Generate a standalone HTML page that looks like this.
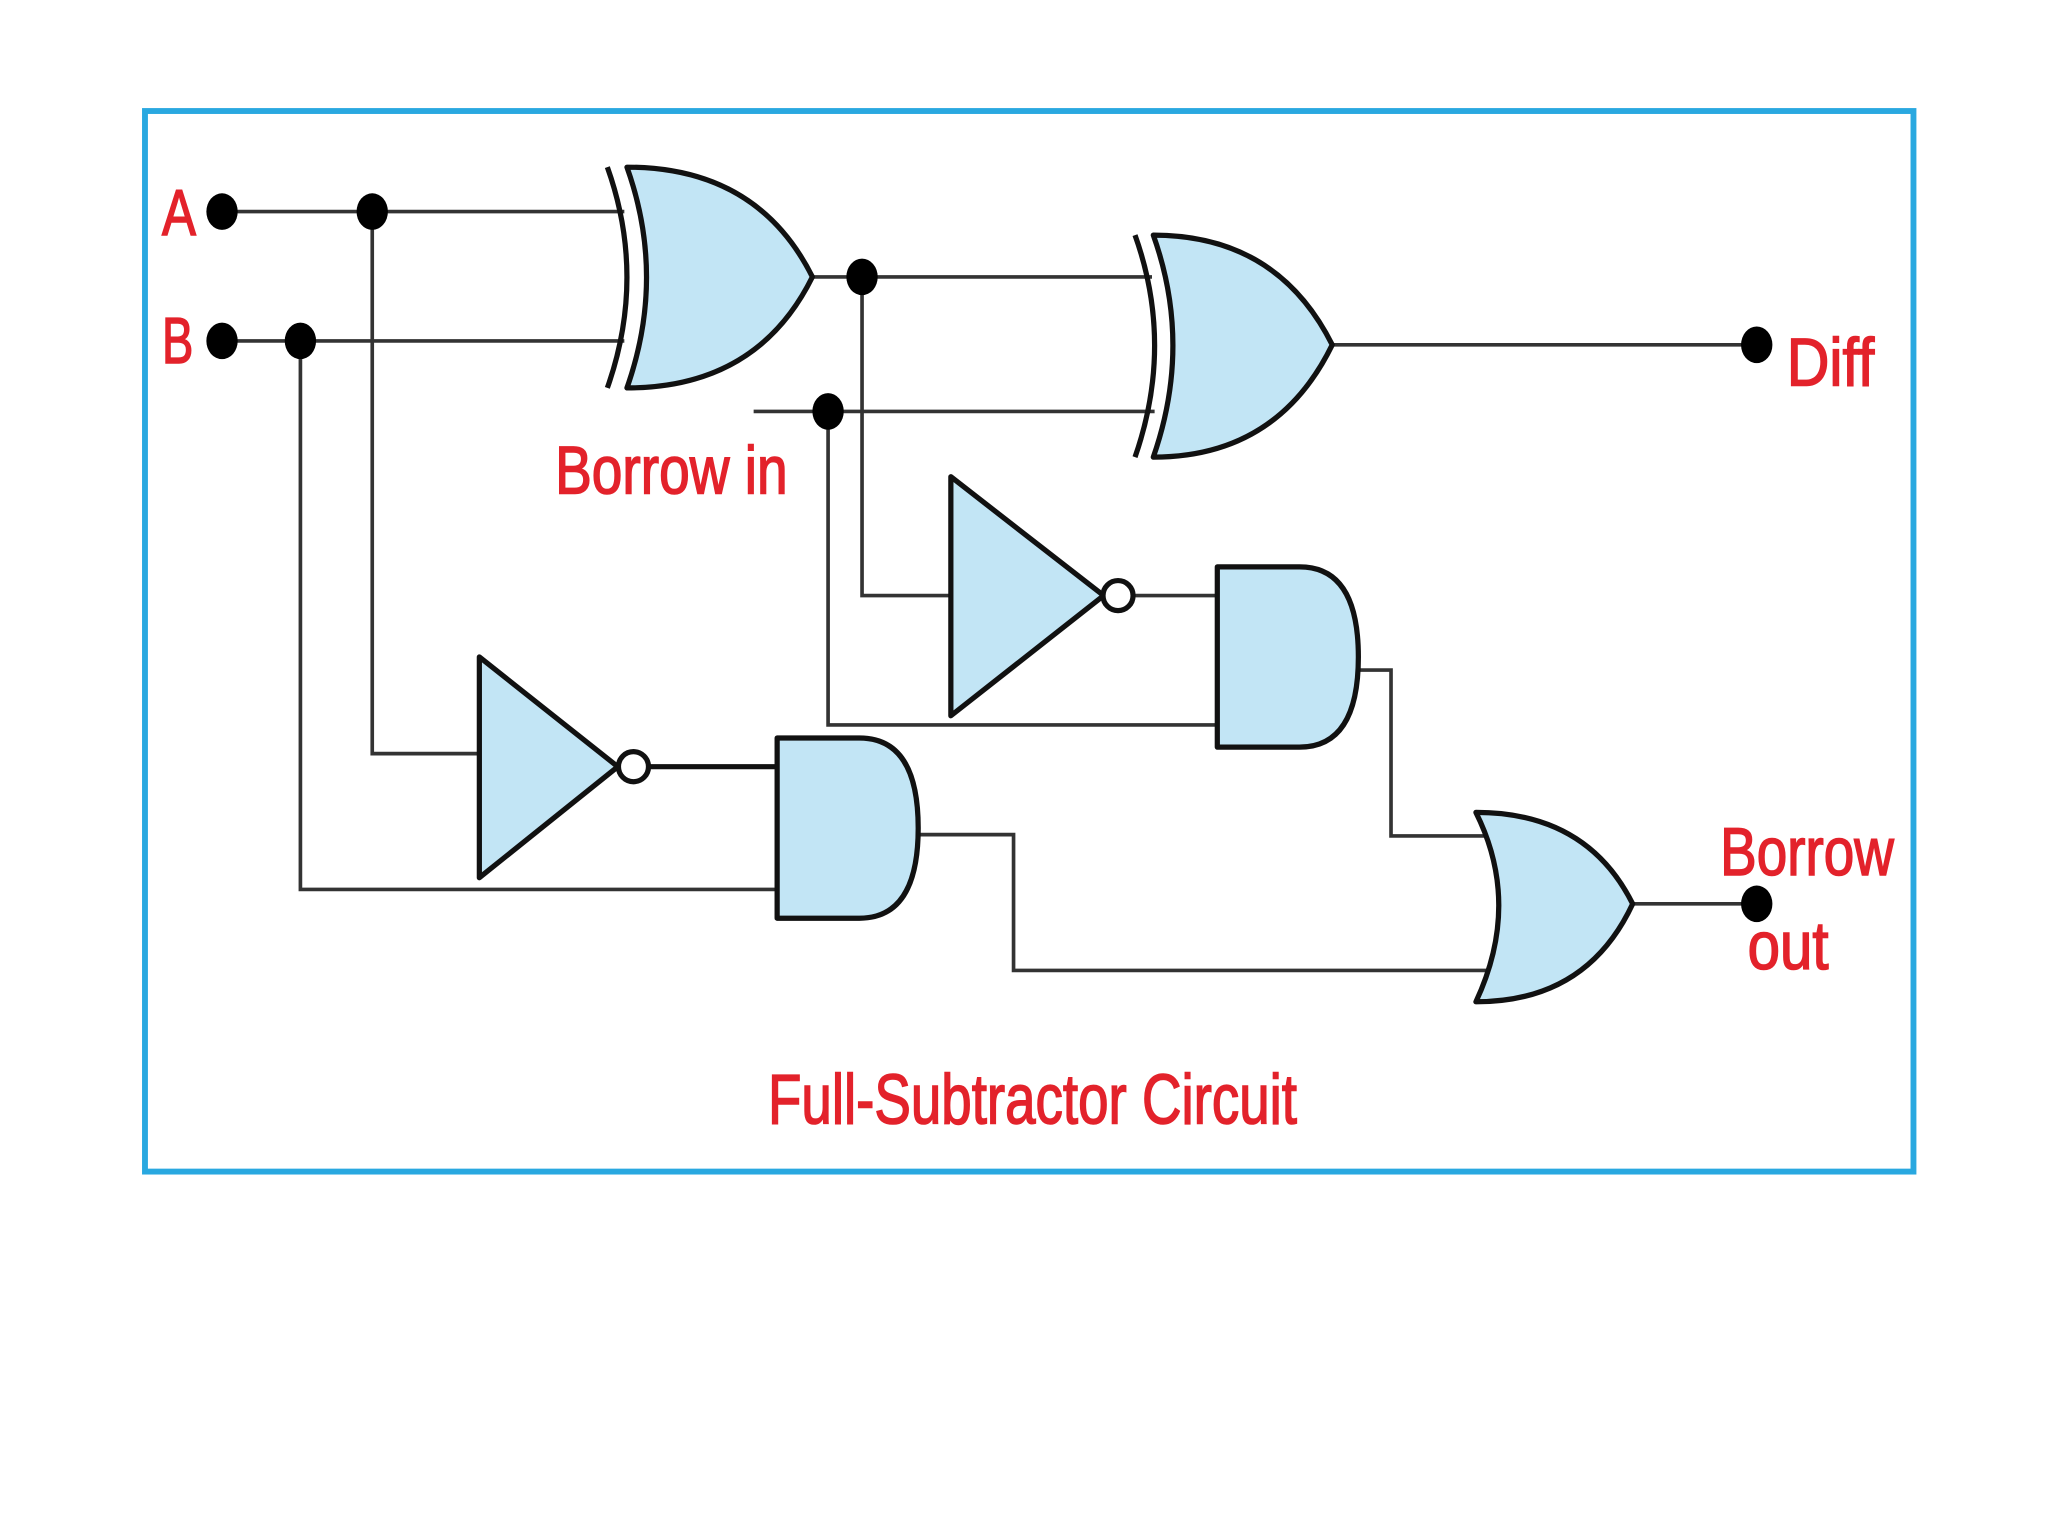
<!DOCTYPE html>
<html><head><meta charset="utf-8"><style>
html,body{margin:0;padding:0;background:#fff;}
svg{display:block;}
text{font-family:"Liberation Sans Narrow","Liberation Sans",sans-serif;fill:#e3222b;stroke:#e3222b;stroke-width:1.2;}
</style></head><body>
<svg width="2048" height="1536" viewBox="0 0 1568 1176" xmlns="http://www.w3.org/2000/svg">
<rect x="0" y="0" width="1568" height="1176" fill="#fff"/>
<rect x="111" y="85" width="1354" height="812" fill="none" stroke="#29a8e0" stroke-width="4.5"/>
<g stroke="#333" stroke-width="2.8" fill="none">
<path d="M170 162H478"/>
<path d="M170 261H478"/>
<path d="M622 212H882"/>
<path d="M577 315H884"/>
<path d="M1020 264H1345"/>
<path d="M660 212V456H728"/>
<path d="M868 456H932"/>
<path d="M634 315V555H932"/>
<path d="M1040 513H1065V640H1142"/>
<path d="M285 162V577H367"/>
<path d="M230 261V681H595"/>
<path d="M703 639H776V743H1142"/>
<path d="M1250 692H1345"/>
</g>
<path d="M497 587H595" stroke="#111" stroke-width="4"/>
<g fill="#c2e5f5" stroke="#111" stroke-width="4" stroke-linejoin="round">
<path d="M480 128Q510 212 480 297Q580 297 622 212Q580 128 480 128Z"/>
<path d="M465 128Q495 212 465 297" fill="none"/>
<path d="M883 180Q913 264 883 350Q978 350 1020 264Q978 180 883 180Z"/>
<path d="M869 180Q899 264 869 350" fill="none"/>
<path d="M728 365L728 548L845 456Z"/>
<circle cx="856" cy="456" r="11.5" fill="#fff"/>
<path d="M932 434H995Q1040 434 1040 503Q1040 572 995 572H932Z"/>
<path d="M367 503L367 672L473 587Z"/>
<circle cx="485" cy="587" r="11.5" fill="#fff"/>
<path d="M595 565H658Q703 565 703 634Q703 703 658 703H595Z"/>
<path d="M1130 622Q1165 692 1130 767Q1215 767 1250 692Q1215 622 1130 622Z"/>
</g>
<g fill="#000">
<ellipse cx="170" cy="162" rx="12" ry="14"/>
<ellipse cx="170" cy="261" rx="12" ry="14"/>
<ellipse cx="285" cy="162" rx="12" ry="14"/>
<ellipse cx="230" cy="261" rx="12" ry="14"/>
<ellipse cx="660" cy="212" rx="12" ry="14"/>
<ellipse cx="634" cy="315" rx="12" ry="14"/>
<ellipse cx="1345" cy="264" rx="12" ry="14"/>
<ellipse cx="1345" cy="692" rx="12" ry="14"/>
</g>
<text x="124" y="180" font-size="50" textLength="26" lengthAdjust="spacingAndGlyphs">A</text>
<text x="124" y="278" font-size="50" textLength="24" lengthAdjust="spacingAndGlyphs">B</text>
<text x="425" y="378" font-size="52" textLength="178" lengthAdjust="spacingAndGlyphs">Borrow in</text>
<text x="1368" y="295" font-size="52" textLength="67" lengthAdjust="spacingAndGlyphs">Diff</text>
<text x="1317" y="670" font-size="52" textLength="133" lengthAdjust="spacingAndGlyphs">Borrow</text>
<text x="1338" y="742" font-size="52" textLength="62" lengthAdjust="spacingAndGlyphs">out</text>
<text x="588" y="860" font-size="54" textLength="405" lengthAdjust="spacingAndGlyphs">Full-Subtractor Circuit</text>
</svg>
</body></html>
